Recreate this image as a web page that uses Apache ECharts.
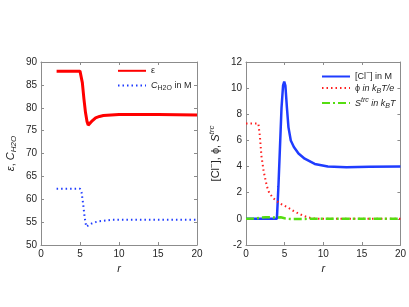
<!DOCTYPE html>
<html><head><meta charset="utf-8">
<script src="https://cdn.jsdelivr.net/npm/echarts@6/dist/echarts.min.js"></script>
<style>html,body{margin:0;padding:0;background:#fff}#c{width:409px;height:307px}</style>
</head><body><div id="c"></div>
<script>
// Left panel
const epsR = [2,3,4,5,5.1,5.3,5.5,5.7,5.9,6.05,6.3,6.6,7,7.5,8,9,10,12,15,20];
const epsV = [88,88,88,88,87.8,85.5,82,79,77,76.2,76.4,77.2,77.8,78.1,78.3,78.4,78.5,78.5,78.5,78.4];
const h2oR = [2,3,4,5,5.2,5.4,5.6,5.8,6,6.5,7,7.5,8,9,10,15,20];
const h2oV = [62.3,62.3,62.3,62.3,61.5,59,56,54,54.2,54.7,55,55.2,55.3,55.5,55.5,55.5,55.5];
// Right panel
const clR = [0,4.0,4.2,4.4,4.6,4.8,4.95,5.1,5.3,5.5,5.8,6.2,6.8,7.6,8.9,10.6,13,16,20];
const clV = [0,0,2.5,5.5,8.5,10.2,10.5,10.2,8.5,7.0,6.0,5.5,5.0,4.6,4.2,4.0,3.95,3.98,4.0];
const phiR = [0,1.6,1.8,2.0,2.3,2.7,3.0,3.5,4.0,4.5,5.0,5.5,6.0,6.5,7.0,7.5,8,8.5,9,10,15,20];
const phiV = [7.3,7.3,6.3,4.8,3.6,2.5,2.0,1.6,1.35,1.15,1.0,0.85,0.65,0.5,0.35,0.22,0.12,0.05,0.02,0,0,0];
const sR = [0,1,2,2.5,3,4,4.5,5,5.5,6,8,10,15,20];
const sV = [0,0.02,0.1,0.12,0.12,0.1,0.12,0.05,0,-0.02,0,0,0,0];
const xTicks = {min:0,max:20,interval:5};
const yLeft = {min:50,max:90,interval:5};
const yRight = {min:-2,max:12,interval:2};

const pairs = (r,v)=>r.map((x,i)=>[x,v[i]]);
const FONT = 'Liberation Sans';
const frame = '#8c8c8c';
const txt = '#262626';

function xAx(grid, pos, labels){
  return {type:'value', gridIndex:grid, position:pos, ...xTicks,
    name: labels ? '{i|r}' : '', nameLocation:'middle', nameGap:15,
    nameTextStyle:{rich:{i:{fontFamily:FONT,fontStyle:'italic',fontSize:11,color:txt}}},
    axisLine:{show:true,onZero:false,lineStyle:{color:frame,width:1}},
    axisTick:{show:true,inside:true,length:3,lineStyle:{color:frame}},
    axisLabel:{show:labels,color:txt,fontFamily:FONT,fontSize:10,margin:4},
    splitLine:{show:false}};
}
function yAx(grid, pos, labels, rng, name){
  return {type:'value', gridIndex:grid, position:pos, ...rng,
    name: labels ? name : '', nameLocation:'middle', nameGap:labels?23:0, nameRotate:90,
    nameTextStyle:{fontFamily:FONT,fontSize:11,color:txt,rich:{
      n:{fontFamily:FONT,fontSize:11,color:txt},
      i:{fontFamily:FONT,fontSize:11,color:txt,fontStyle:'italic'},
      sub:{fontFamily:FONT,fontSize:8,color:txt,fontStyle:'italic',padding:[7,0,0,0]},
      sup:{fontFamily:FONT,fontSize:8,color:txt,fontStyle:'italic',padding:[0,0,7,0]},
      supn:{fontFamily:FONT,fontSize:8,color:txt,padding:[0,0,7,0]}
    }},
    axisLine:{show:true,onZero:false,lineStyle:{color:frame,width:1}},
    axisTick:{show:true,inside:true,length:3,lineStyle:{color:frame}},
    axisLabel:{show:labels,color:txt,fontFamily:FONT,fontSize:10,margin:4},
    splitLine:{show:false}};
}
const legRich = {
  n:{fontFamily:FONT,fontSize:9,color:txt},
  i:{fontFamily:FONT,fontSize:9,color:txt,fontStyle:'italic'},
  sub:{fontFamily:FONT,fontSize:7,color:txt,padding:[6,0,0,0]},
  subi:{fontFamily:FONT,fontSize:7,color:txt,fontStyle:'italic',padding:[6,0,0,0]},
  sup:{fontFamily:FONT,fontSize:7,color:txt,fontStyle:'italic',padding:[0,0,6,0]},
  supn:{fontFamily:FONT,fontSize:7,color:txt,padding:[0,0,6,0]}
};
const legendNames = {
  'eps':'{n|ε}',
  'h2o':'{i|C}{sub|H2O}{n| in M}',
  'cl':'{n|[Cl}{supn|−}{n|] in M}',
  'phi':'{n|ϕ }{i|in k}{subi|B}{i|T/e}',
  's':'{i|S}{sup|trc}{i| in k}{subi|B}{i|T}'
};
const chart = echarts.init(document.getElementById('c'), null, {renderer:'canvas'});
chart.setOption({
  animation:false,
  backgroundColor:'#fff',
  grid:[{left:41,top:62,width:156,height:183},{left:246,top:62,width:156,height:183}],
  xAxis:[xAx(0,'bottom',true),xAx(0,'top',false),xAx(1,'bottom',true),xAx(1,'top',false)],
  yAxis:[yAx(0,'left',true,yLeft,'{i|ε}{n|, }{i|C}{sub|H2O}'),yAx(0,'right',false,yLeft,''),
         yAx(1,'left',true,yRight,'{n|[Cl}{supn|−}{n|], ϕ, }{i|S}{sup|trc}'),yAx(1,'right',false,yRight,'')],
  legend:[
    {data:['eps','h2o'],orient:'vertical',left:112,top:61,itemWidth:28,itemHeight:12,itemGap:5,
     itemStyle:{opacity:0},
     formatter:n=>legendNames[n],textStyle:{rich:legRich}},
    {data:['cl','phi','s'],orient:'vertical',left:316,top:65,itemWidth:28,itemHeight:12,itemGap:2,
     itemStyle:{opacity:0},
     formatter:n=>legendNames[n],textStyle:{rich:legRich}}
  ],
  series:[
    {name:'eps',type:'line',xAxisIndex:0,yAxisIndex:0,data:pairs(epsR,epsV),showSymbol:false,symbol:'none',
     lineStyle:{color:'#ff0000',width:3},itemStyle:{color:'#ff0000'}},
    {name:'h2o',type:'line',xAxisIndex:0,yAxisIndex:0,data:pairs(h2oR,h2oV),showSymbol:false,symbol:'none',
     lineStyle:{color:'#1f3cff',width:2,type:[1.5,3]},itemStyle:{color:'#1f3cff'}},
    {name:'cl',type:'line',xAxisIndex:2,yAxisIndex:2,data:pairs(clR,clV),showSymbol:false,symbol:'none',
     lineStyle:{color:'#1f3cff',width:2.5},itemStyle:{color:'#1f3cff'}},
    {name:'phi',type:'line',xAxisIndex:2,yAxisIndex:2,data:pairs(phiR,phiV),showSymbol:false,symbol:'none',
     lineStyle:{color:'#ff2020',width:2,type:[1.5,3]},itemStyle:{color:'#ff2020'}},
    {name:'s',type:'line',xAxisIndex:2,yAxisIndex:2,data:pairs(sR,sV),showSymbol:false,symbol:'none',
     lineStyle:{color:'#55dd11',width:2.5,type:[8,3,2,3]},itemStyle:{color:'#55dd11'}}
  ]
});
</script></body></html>
